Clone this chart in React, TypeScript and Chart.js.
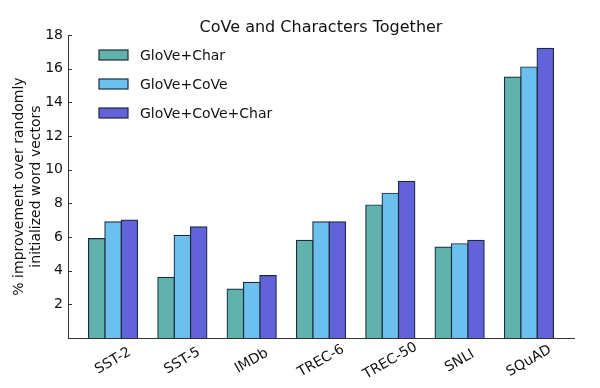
import React, { useEffect, useRef } from "react";
import { Chart, registerables } from "chart.js";

Chart.register(...registerables);

const categories = ["SST-2", "SST-5", "IMDb", "TREC-6", "TREC-50", "SNLI", "SQuAD"];
const seriesNames = ["GloVe+Char", "GloVe+CoVe", "GloVe+CoVe+Char"];
const gloveChar = [5.9, 3.6, 2.9, 5.8, 7.9, 5.4, 15.5];
const gloveCove = [6.9, 6.1, 3.3, 6.9, 8.6, 5.6, 16.1];
const gloveCoveChar = [7.0, 6.6, 3.7, 6.9, 9.3, 5.8, 17.2];
const yTicks = [2, 4, 6, 8, 10, 12, 14, 16, 18];
const titleText = "CoVe and Characters Together";
const yLabelLines = ["% improvement over randomly", "initialized word vectors"];

const colors = ["#60b3ad", "#6cc0ef", "#6262da"];
const borderColor = "#1d2b3a";
const FONT = "'DejaVu Sans', sans-serif";

export default function App() {
  const ref = useRef<HTMLCanvasElement | null>(null);

  useEffect(() => {
    if (!ref.current) return;
    const series = [gloveChar, gloveCove, gloveCoveChar];

    const decor = {
      id: "decor",
      afterDraw(chart: any) {
        const ctx = chart.ctx;
        const area = chart.chartArea;
        const xs = chart.scales.x;
        const ys = chart.scales.y;
        ctx.save();
        // title
        ctx.fillStyle = "#111";
        ctx.font = `16px ${FONT}`;
        ctx.textAlign = "center";
        ctx.textBaseline = "alphabetic";
        ctx.fillText(titleText, (area.left + area.right) / 2, 32);
        // y label
        ctx.save();
        ctx.translate(19, (area.top + area.bottom) / 2);
        ctx.rotate(-Math.PI / 2);
        ctx.font = `14px ${FONT}`;
        ctx.textBaseline = "middle";
        ctx.fillText(yLabelLines[0], 0, 0);
        ctx.fillText(yLabelLines[1], 0, 17);
        ctx.restore();
        // inward y ticks
        ctx.strokeStyle = "#333";
        ctx.lineWidth = 1;
        yTicks.forEach((t) => {
          const py = Math.round(ys.getPixelForValue(t)) + 0.5;
          ctx.beginPath();
          ctx.moveTo(area.left, py);
          ctx.lineTo(area.left + 4, py);
          ctx.stroke();
        });
        // x labels
        ctx.font = `14px ${FONT}`;
        ctx.fillStyle = "#111";
        ctx.textAlign = "center";
        ctx.textBaseline = "middle";
        categories.forEach((c, i) => {
          const px = xs.getPixelForValue(i);
          ctx.save();
          ctx.translate(px, area.bottom + 23);
          ctx.rotate(-Math.PI / 6);
          ctx.fillText(c, 0, 0);
          ctx.restore();
        });
        // legend
        seriesNames.forEach((name, i) => {
          const cy = 55 + i * 29;
          ctx.fillStyle = colors[i];
          ctx.fillRect(99, cy - 5, 29, 10);
          ctx.strokeStyle = borderColor;
          ctx.lineWidth = 1.2;
          ctx.strokeRect(99, cy - 5, 29, 10);
          ctx.fillStyle = "#111";
          ctx.textAlign = "left";
          ctx.textBaseline = "middle";
          ctx.font = `14px ${FONT}`;
          ctx.fillText(name, 140, cy + 1);
        });
        ctx.restore();
      },
    };

    const chart = new Chart(ref.current, {
      type: "bar",
      data: {
        datasets: series.map((vals, si) => ({
          label: seriesNames[si],
          data: vals.map((v, i) => ({ x: i, y: v })),
          backgroundColor: colors[si],
          borderColor: borderColor,
          borderWidth: 1.2,
          borderSkipped: "bottom",
          inflateAmount: 0.6,
          categoryPercentage: 0.707,
          barPercentage: 1,
        })),
      },
      options: {
        responsive: false,
        animation: false,
        events: [],
        layout: { padding: { left: 0, right: 26, top: 35, bottom: 0 } },
        plugins: {
          legend: { display: false },
          title: { display: false },
          tooltip: { enabled: false },
        },
        scales: {
          x: {
            type: "linear",
            min: -0.65,
            max: 6.65,
            offset: false,
            grid: { display: false, drawTicks: false, offset: false },
            border: { display: true, color: "#333", width: 1 },
            afterBuildTicks: (s: any) => {
              s.ticks = categories.map((_, i) => ({ value: i }));
            },
            ticks: { display: false },
            afterFit: (s: any) => {
              s.height = 50;
            },
          },
          y: {
            min: 0,
            max: 18,
            grid: { display: false, drawTicks: false },
            border: { display: true, color: "#333", width: 1 },
            afterBuildTicks: (s: any) => {
              s.ticks = yTicks.map((v) => ({ value: v }));
            },
            ticks: {
              padding: 5,
              color: "#111",
              font: { family: FONT, size: 14 },
            },
            afterFit: (s: any) => {
              s.width = 68;
            },
          },
        },
      },
      plugins: [decor],
    } as any);
    return () => chart.destroy();
  }, []);

  return (
    <div style={{ position: "fixed", left: 0, top: 0, width: 600, height: 388, background: "#fff" }}>
      <canvas ref={ref} width={600} height={388} style={{ width: 600, height: 388, display: "block" }} />
    </div>
  );
}
